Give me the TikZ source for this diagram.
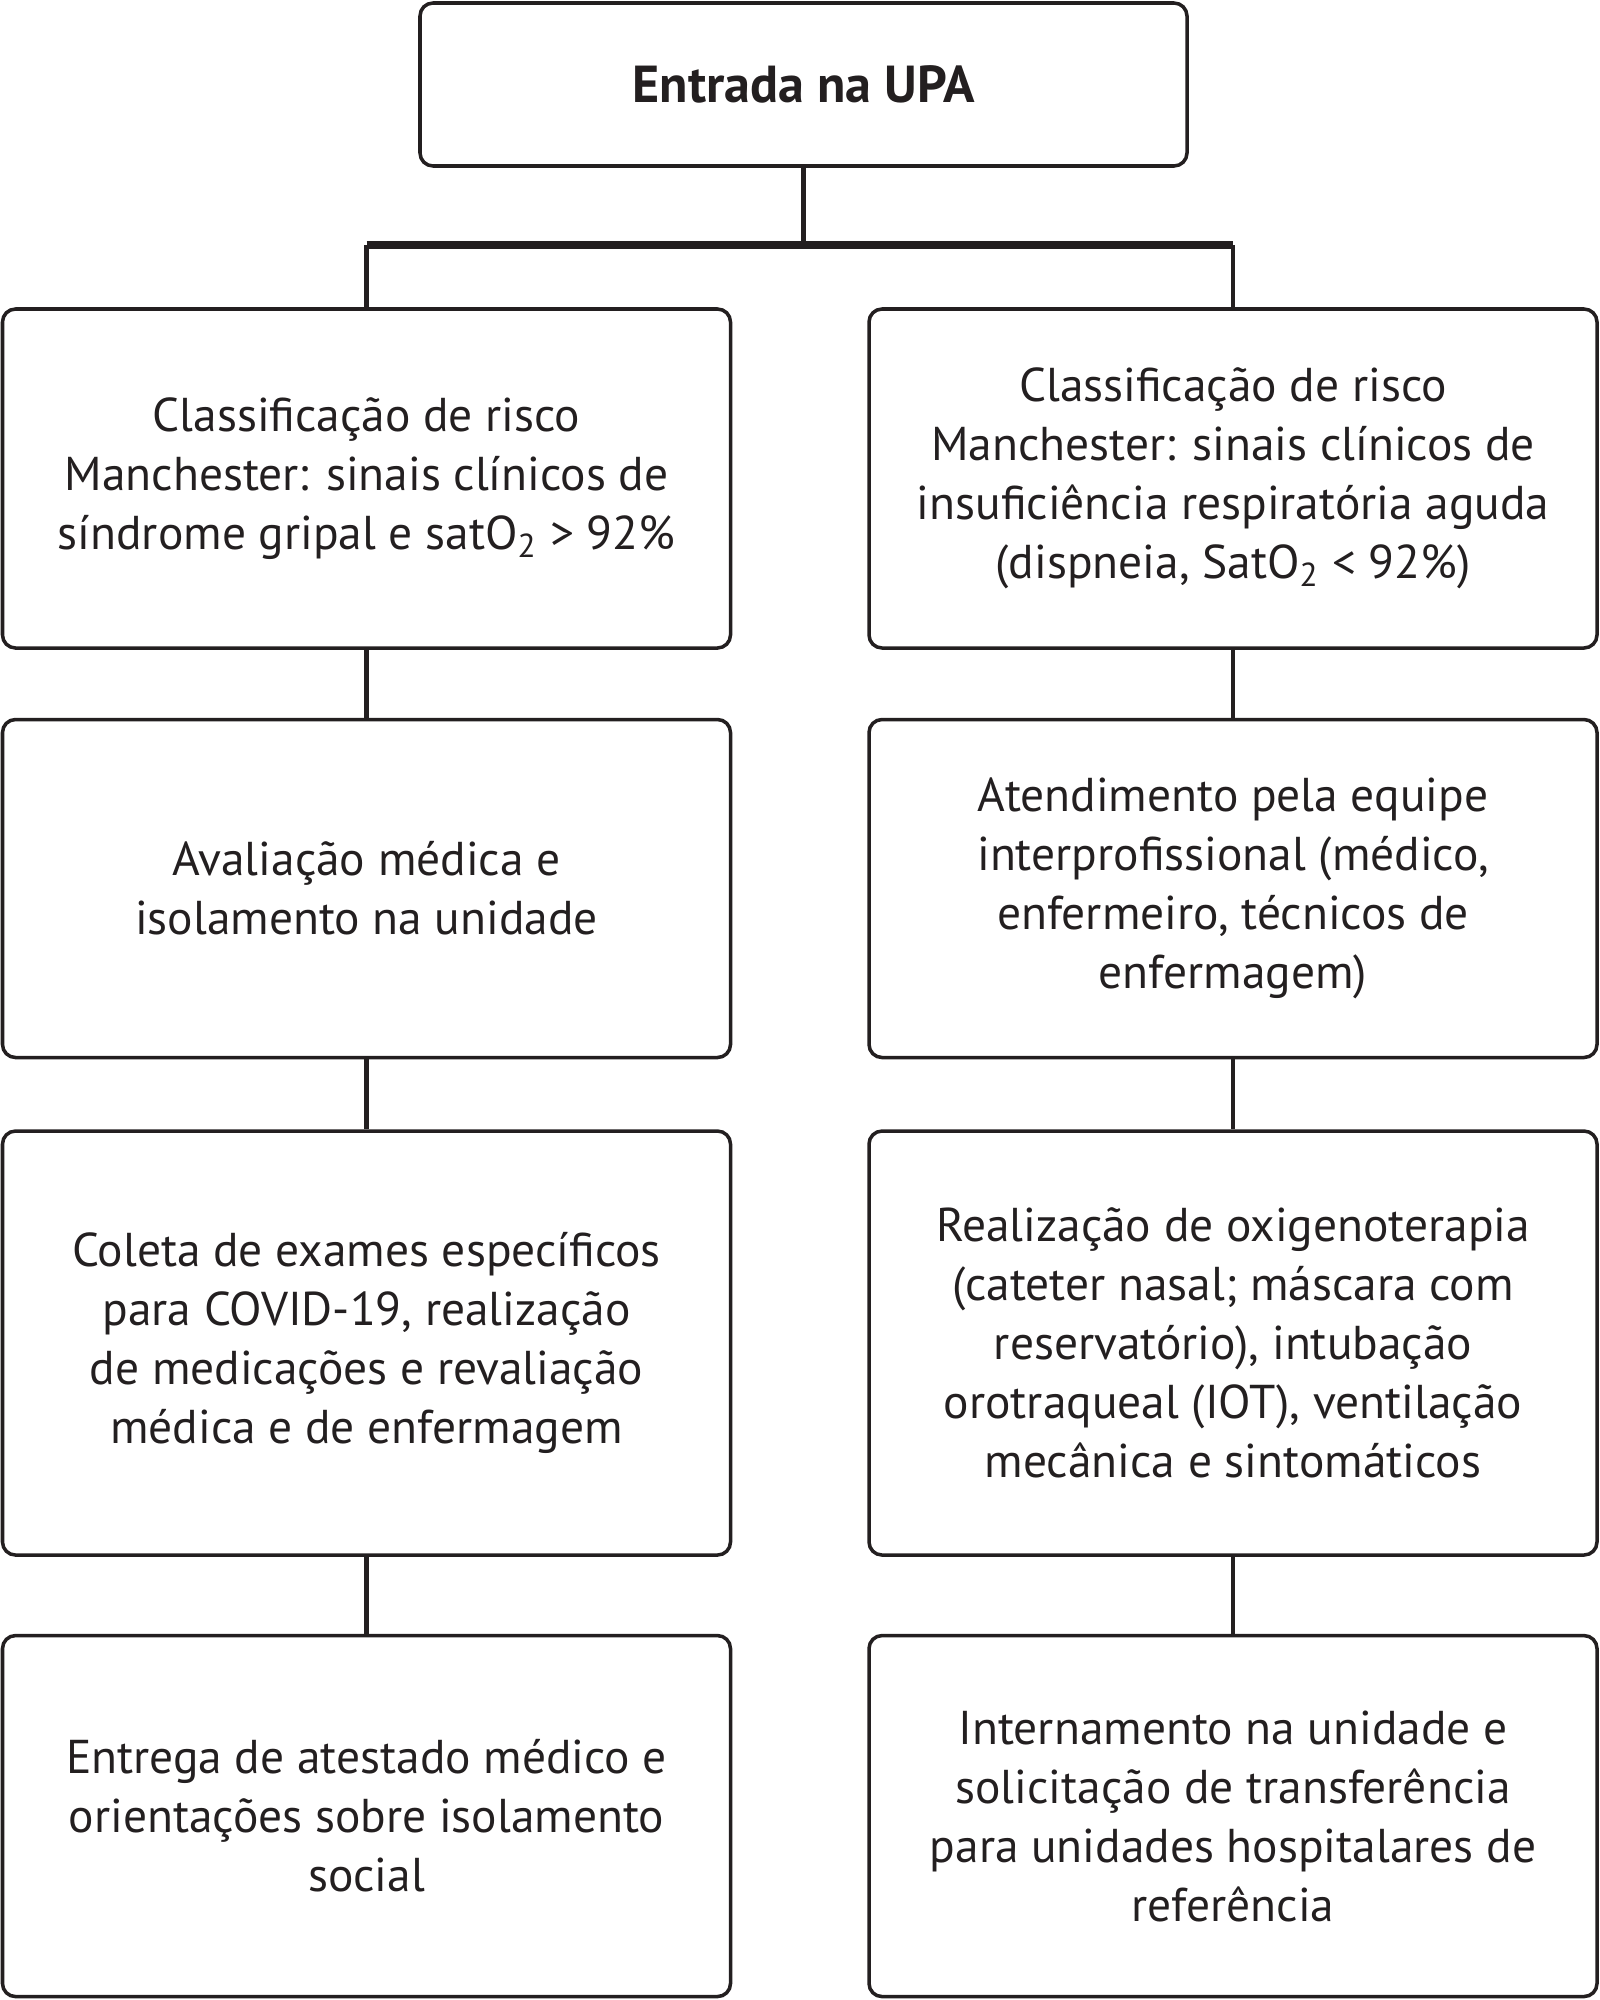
\documentclass[tikz,border=0pt]{standalone}
\usepackage{fontspec}
\setmainfont{PT Sans}
\usepackage{xcolor}
\definecolor{inkgray}{HTML}{231F20}
\usetikzlibrary{positioning}

\begin{document}
\begin{tikzpicture}[semithick, node distance=0.68cm]
      \tikzstyle{every node}=[font=\fontsize{13.5}{16.8}\selectfont, text=inkgray]
      \tikzstyle{box}=[draw=inkgray, line width=1pt, rounded corners=0.13cm, align=center,
                       minimum width=7.28cm, inner sep=0pt]
      \tikzstyle{link}=[draw=inkgray, line width=1.3pt]
      \useasboundingbox (0,0) rectangle (16,-20);

      \node[box, minimum width=7.67cm, minimum height=1.63cm, font=\fontsize{14.8}{16.8}\selectfont\bfseries]
            (entrada) at (8.035,-0.845) {Entrada na UPA};
      \coordinate (bar) at (8.035,-2.45);

      \node[box, minimum height=3.39cm] (gripal) at (3.665,-4.785)
            {Classificação de risco\\Manchester: sinais clínicos de\\síndrome gripal e satO\textsubscript{2} > 92\%};
      \node[box, minimum height=3.39cm] (insuf) [right=1.35cm of gripal]
            {Classificação de risco\\Manchester: sinais clínicos de\\insuficiência respiratória aguda\\(dispneia, SatO\textsubscript{2} < 92\%)};

      \node[box, minimum height=3.38cm] (avalia) [below=0.68cm of gripal]
            {Avaliação médica e\\isolamento na unidade};
      \node[box, minimum height=3.38cm] (equipe) [below=0.68cm of insuf]
            {Atendimento pela equipe\\interprofissional (médico,\\enfermeiro, técnicos de\\enfermagem)};

      \node[box, minimum height=4.24cm] (coleta) [below=0.70cm of avalia]
            {Coleta de exames específicos\\para COVID-19, realização\\de medicações e revaliação\\médica e de enfermagem};
      \node[box, minimum height=4.24cm] (oxigenio) [below=0.70cm of equipe]
            {Realização de oxigenoterapia\\(cateter nasal; máscara com\\reservatório), intubação\\orotraqueal (IOT), ventilação\\mecânica e sintomáticos};

      \node[box, minimum height=3.61cm] (atestado) [below=0.77cm of coleta]
            {Entrega de atestado médico e\\orientações sobre isolamento\\social};
      \node[box, minimum height=3.61cm] (intern) [below=0.77cm of oxigenio]
            {Internamento na unidade e\\solicitação de transferência\\para unidades hospitalares de\\referência};

      \draw[link] (entrada) -- (bar);
      \draw[link, line width=2.2pt] (gripal.north |- bar) -- (insuf.north |- bar);
      \draw[link] (gripal.north |- bar) -- (gripal.north);
      \draw[link] (insuf.north |- bar) -- (insuf.north);

      \path[link]
            (gripal) edge (avalia)
            (avalia) edge (coleta)
            (coleta) edge (atestado)
            (insuf) edge (equipe)
            (equipe) edge (oxigenio)
            (oxigenio) edge (intern);
    \end{tikzpicture}
\end{document}
